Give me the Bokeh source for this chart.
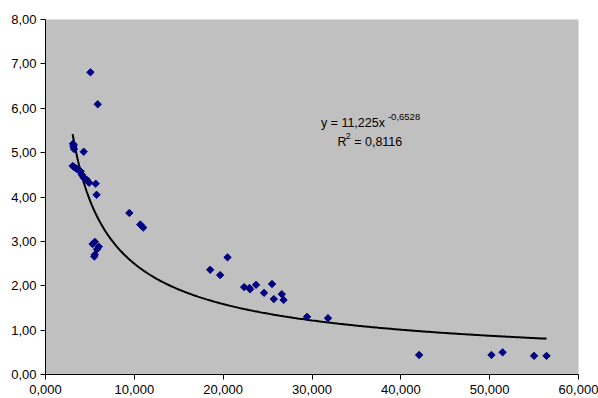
import numpy as np
from bokeh.plotting import figure
from bokeh.models import FixedTicker, Label, Range1d
from bokeh.embed import file_html
from bokeh.resources import INLINE

# ---- data ----
x_vals = [3.10, 3.15, 3.22, 3.18, 4.30,
          3.05, 3.20, 3.35, 3.55, 3.75, 3.95, 4.10, 4.25, 4.40, 4.70, 4.90,
          5.65, 5.75, 5.06, 5.88,
          9.44, 10.67, 11.00,
          5.30, 5.55, 6.00, 5.80, 5.55, 5.50,
          18.54, 19.66, 20.49, 22.36, 22.96, 23.03, 23.70, 24.60, 25.50, 25.70,
          26.60, 26.80, 29.44, 31.80,
          42.06, 50.20, 51.46, 55.00, 56.40]
y_vals = [5.20, 5.13, 5.08, 5.17, 5.02,
          4.70, 4.68, 4.66, 4.63, 4.60, 4.58, 4.50, 4.45, 4.42, 4.38, 4.32,
          4.30, 4.05, 6.81, 6.09,
          3.64, 3.38, 3.31,
          2.94, 2.99, 2.88, 2.82, 2.70, 2.66,
          2.36, 2.24, 2.64, 1.97, 1.95, 1.92, 2.02, 1.84, 2.04, 1.70,
          1.81, 1.68, 1.30, 1.27,
          0.44, 0.44, 0.50, 0.42, 0.42]

fit_a = 11.225
fit_b = -0.6528

x_ticks = [0, 10, 20, 30, 40, 50, 60]
x_tick_labels = ["0,000", "10,000", "20,000", "30,000", "40,000", "50,000", "60,000"]
y_ticks = [0, 1, 2, 3, 4, 5, 6, 7, 8]
y_tick_labels = ["0,00", "1,00", "2,00", "3,00", "4,00", "5,00", "6,00", "7,00", "8,00"]

eq_main = "y = 11,225x"
eq_exp = "-0,6528"
r2_main = "R"
r2_sup = "2"
r2_rest = "= 0,8116"

FONT = "Liberation Sans"

p = figure(width=598, height=398, output_backend="svg", toolbar_location=None,
           x_range=Range1d(0, 60), y_range=Range1d(0, 8),
           min_border_left=45, min_border_right=20, min_border_top=19,
           min_border_bottom=24)
p.border_fill_color = "white"
p.background_fill_color = "#C0C0C0"
p.outline_line_color = None
p.xgrid.visible = False
p.ygrid.visible = False

for ax in (p.xaxis[0], p.yaxis[0]):
    ax.axis_line_color = "black"
    ax.axis_line_width = 1
    ax.major_tick_line_color = "black"
    ax.major_tick_in = 0
    ax.major_tick_out = 5
    ax.minor_tick_line_color = None
    ax.major_label_text_font = FONT
    ax.major_label_text_font_size = "13px"
    ax.major_label_text_color = "black"

p.xaxis.ticker = FixedTicker(ticks=x_ticks)
p.xaxis.major_label_overrides = dict(zip(x_ticks, x_tick_labels))
p.xaxis.major_label_standoff = 5
p.yaxis.ticker = FixedTicker(ticks=y_ticks)
p.yaxis.major_label_overrides = dict(zip(y_ticks, y_tick_labels))
p.yaxis.major_label_standoff = 4

# trend line from the displayed power fit
xs = np.linspace(min(x_vals), max(x_vals), 300)
ys = fit_a * xs ** fit_b
p.line(xs, ys, line_color="black", line_width=2)

p.scatter(x_vals, y_vals, marker="square", angle=np.pi / 4, size=5.2,
          fill_color="#000080", line_color="#000080", line_width=1)

common = dict(text_font=FONT, text_color="black", text_baseline="middle")
p.add_layout(Label(x=31.0, y=5.66, text=eq_main, text_font_size="12.5px", **common))
p.add_layout(Label(x=38.55, y=5.80, text=eq_exp, text_font_size="9.5px", **common))
p.add_layout(Label(x=32.87, y=5.235, text=r2_main, text_font_size="12.5px", **common))
p.add_layout(Label(x=33.8, y=5.38, text=r2_sup, text_font_size="9px", **common))
p.add_layout(Label(x=34.75, y=5.235, text=r2_rest, text_font_size="12.5px", **common))

open("out.html", "w").write(file_html(p, INLINE))
